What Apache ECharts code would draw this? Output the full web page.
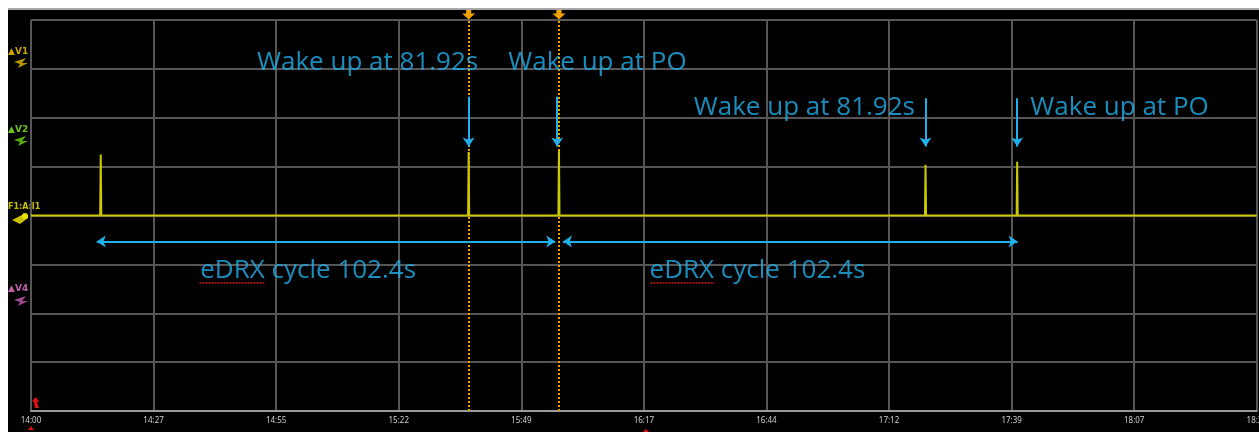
<!DOCTYPE html>
<html>
<head>
<meta charset="utf-8">
<script src="https://cdn.jsdelivr.net/npm/echarts@6/dist/echarts.min.js"></script>
<style>
  html, body { margin: 0; padding: 0; width: 1259px; height: 432px; overflow: hidden; background: #ffffff; }
  #frame { position: absolute; left: 8px; top: 8px; width: 1251px; height: 422px;
           border-top: 2px solid #a8a8a8; background: #000000; overflow: hidden; }
  #chart { position: absolute; left: 0; top: 0; width: 1262px; height: 422px; }
</style>
</head>
<body>
<div id="frame"><div id="chart"></div></div>
<script>
// Time base: seconds from the left edge of the screen, 10 divisions
const DIV_SECONDS = 27.42;
const tickLabels = ['14:00', '14:27', '14:55', '15:22', '15:49', '16:17', '16:44', '17:12', '17:39', '18:07', '18:34'];

// Current trace (F1:A:I1) in divisions: flat baseline with short wake-up bursts
const spikeTimes  = [15.6, 97.9, 118.1, 200.1, 220.6];
const spikeLevels = [1.25, 1.30, 1.33, 1.04, 1.10];

// Cursor positions (seconds)
const cursorTimes = [97.9, 118.1];

// Annotation texts: [time, level, text]
const wakeLabels = [
  [75.3, 3.12, 'Wake up at 81.92s'],
  [126.7, 3.12, 'Wake up at PO'],
  [173.0, 2.21, 'Wake up at 81.92s'],
  [243.5, 2.21, 'Wake up at PO']
];
const cycleLabels = [
  [62.0, -1.12, 'eDRX cycle 102.4s'],
  [162.5, -1.12, 'eDRX cycle 102.4s']
];
// Down arrows pointing at each burst: [time, fromLevel, toLevel]
const wakeArrows = [
  [97.9, 2.43, 1.41],
  [117.7, 2.43, 1.41],
  [200.1, 2.40, 1.41],
  [220.6, 2.40, 1.41]
];
// Double-headed spans for each eDRX cycle: [start, end, level]
const cycleSpans = [
  [14.7, 117.3, -0.53],
  [119.0, 220.7, -0.53]
];
// Spell-check squiggles under "eDRX": [start, end, level]
const squiggles = [
  [37.7, 52.2, -1.37],
  [138.6, 152.9, -1.37]
];

const X_MAX = DIV_SECONDS * 10;
const BLUE = '#20b0ec';
const TRACE = '#cdc800';
const CURSOR = '#f0a000';

// Build trace polyline from the bursts
const SPIKE_HALF = 0.12;
const trace = [[0, 0]];
spikeTimes.forEach((t, i) => {
  trace.push([t - SPIKE_HALF, 0], [t, spikeLevels[i]], [t + SPIKE_HALF, 0]);
});
trace.push([X_MAX, 0]);

const chart = echarts.init(document.getElementById('chart'), null, { renderer: 'canvas' });

const textFont = { fontFamily: 'Open Sans', fontSize: 26, color: BLUE };

const option = {
  backgroundColor: '#000000',
  animation: false,
  grid: { left: 23, right: 9, top: 10, bottom: 21 },
  xAxis: {
    type: 'value', min: 0, max: X_MAX, interval: DIV_SECONDS,
    axisLine: { show: true, onZero: false, lineStyle: { color: '#9a9a9a', width: 2 } },
    axisTick: { show: false },
    axisLabel: {
      color: '#d0d0d0', fontSize: 8, fontFamily: 'Noto Sans', margin: 6,
      formatter: v => tickLabels[Math.round(v / DIV_SECONDS)] || ''
    },
    splitLine: { show: true, lineStyle: { color: '#565656', width: 2 } }
  },
  yAxis: {
    type: 'value', min: -4, max: 4, interval: 1,
    axisLine: { show: false }, axisTick: { show: false }, axisLabel: { show: false },
    splitLine: { show: true, lineStyle: { color: '#565656', width: 2 } }
  },
  series: [
    {
      name: 'F1:A:I1', type: 'line', data: trace, showSymbol: false, z: 5,
      lineStyle: { color: TRACE, width: 2 },
      markLine: {
        silent: true, symbol: ['none', 'none'], label: { show: false },
        lineStyle: { color: CURSOR, width: 2, type: [2, 2] },
        data: cursorTimes.map(t => ({ xAxis: t }))
      },
      markPoint: {
        silent: true,
        symbol: 'path://M3,0 L7,0 L7,5 L10,5 L5,11 L0,5 L3,5 Z',
        symbolSize: [13, 11], symbolOffset: [0, -6],
        itemStyle: { color: CURSOR }, label: { show: false },
        data: cursorTimes.map(t => ({ coord: [t, 4] }))
      }
    },
    {
      name: 'arrows', type: 'line', data: [], z: 6,
      markLine: {
        silent: true, label: { show: false }, symbolSize: 9,
        lineStyle: { color: BLUE, width: 2, type: 'solid' },
        data: [
          ...wakeArrows.map(a => [
            { coord: [a[0], a[1]], symbol: 'none' },
            { coord: [a[0], a[2]], symbol: 'arrow' }
          ]),
          ...cycleSpans.map(s => [
            { coord: [s[0], s[2]], symbol: 'arrow' },
            { coord: [s[1], s[2]], symbol: 'arrow' }
          ])
        ]
      }
    },
    {
      name: 'squiggles', type: 'line', data: [], z: 6,
      markLine: {
        silent: true, label: { show: false }, symbol: ['none', 'none'],
        lineStyle: { color: '#d02020', width: 1.5, type: [2, 1] },
        data: squiggles.map(s => [{ coord: [s[0], s[2]] }, { coord: [s[1], s[2]] }])
      }
    },
    {
      name: 'notes', type: 'scatter', z: 7, silent: true,
      symbolSize: 1, itemStyle: { color: 'rgba(0,0,0,0)' },
      data: wakeLabels.concat(cycleLabels).map(d => ({ value: [d[0], d[1]], name: d[2] })),
      label: { show: true, position: 'inside', formatter: p => p.name, ...textFont }
    }
  ],
  graphic: [
    { type: 'text', left: 0, top: 37, style: { text: '▲V1', fill: '#c8a400', font: 'bold 9px "DejaVu Sans"' } },
    { type: 'polygon', shape: { points: [[6, 52], [18, 48], [14, 53], [20, 53], [10, 58], [12, 54]] }, style: { fill: '#b89a00' } },
    { type: 'text', left: 0, top: 115, style: { text: '▲V2', fill: '#6cc214', font: 'bold 9px "DejaVu Sans"' } },
    { type: 'polygon', shape: { points: [[6, 130], [18, 126], [14, 131], [20, 131], [10, 136], [12, 132]] }, style: { fill: '#58b010' } },
    { type: 'text', left: 0, top: 193, style: { text: 'F1:A:I1', fill: '#c8c000', font: 'bold 8px "DejaVu Sans"' } },
    { type: 'polygon', shape: { points: [[4, 210], [14, 205], [20, 205], [20, 208], [12, 214]] }, style: { fill: '#c8c000' } },
    { type: 'circle', shape: { cx: 17, cy: 206, r: 3 }, style: { fill: '#e8e000' } },
    { type: 'text', left: 0, top: 274, style: { text: '▲V4', fill: '#c060a8', font: 'bold 9px "DejaVu Sans"' } },
    { type: 'polygon', shape: { points: [[6, 290], [18, 286], [14, 291], [20, 291], [10, 296], [12, 292]] }, style: { fill: '#a04890' } },
    { type: 'polygon', shape: { points: [[24, 391], [28, 387], [31, 392], [29, 392], [31, 398], [27, 398], [26, 392]] }, style: { fill: '#e01010' } },
    { type: 'polygon', shape: { points: [[20, 420], [23, 416], [26, 420]] }, style: { fill: '#e01010' } },
    { type: 'polygon', shape: { points: [[635, 422], [638, 419], [641, 422]] }, style: { fill: '#e01010' } }
  ]
};

chart.setOption(option);
</script>
</body>
</html>
